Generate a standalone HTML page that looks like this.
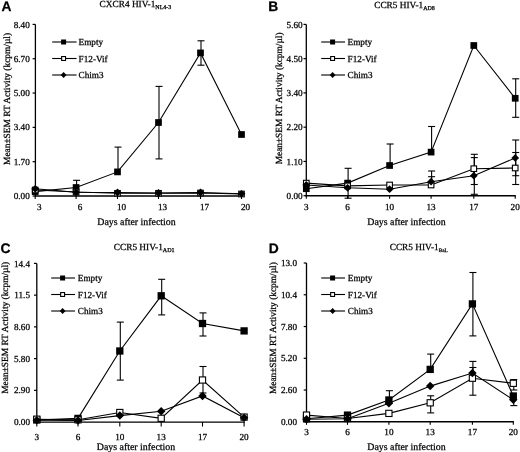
<!DOCTYPE html>
<html><head><meta charset="utf-8"><style>
html,body{margin:0;padding:0;background:#fff;width:520px;height:452px;overflow:hidden}
svg{display:block;filter:grayscale(1)} text{text-rendering:geometricPrecision;stroke:#000;stroke-width:0.25px}
</style></head><body>
<svg width="520" height="452" viewBox="0 0 520 452">
<rect width="520" height="452" fill="#fff"/>
<text x="1.5" y="10.7" font-family='"Liberation Sans", sans-serif' font-weight="bold" font-size="13.8">A</text>
<text x="99.6" y="7.1" font-family='"Liberation Serif", serif' font-size="9.3">CXCR4 HIV-1<tspan font-size="6.0" dy="2.3">NL4-3</tspan></text>
<text transform="translate(10.4,98.95) rotate(-90)" text-anchor="middle" font-family='"Liberation Serif", serif' font-size="9.4">Mean±SEM RT Activity (kcpm/µl)</text>
<line x1="35.4" y1="24.4" x2="35.4" y2="196.7" stroke="#000" stroke-width="1.3"/>
<line x1="32.6" y1="196.00" x2="35.4" y2="196.00" stroke="#000" stroke-width="1.2"/>
<text x="29.8" y="199.10" text-anchor="end" font-family='"Liberation Serif", serif' font-size="9.2">0.00</text>
<line x1="32.6" y1="161.68" x2="35.4" y2="161.68" stroke="#000" stroke-width="1.2"/>
<text x="29.8" y="164.78" text-anchor="end" font-family='"Liberation Serif", serif' font-size="9.2">1.70</text>
<line x1="32.6" y1="127.36" x2="35.4" y2="127.36" stroke="#000" stroke-width="1.2"/>
<text x="29.8" y="130.46" text-anchor="end" font-family='"Liberation Serif", serif' font-size="9.2">3.40</text>
<line x1="32.6" y1="93.04" x2="35.4" y2="93.04" stroke="#000" stroke-width="1.2"/>
<text x="29.8" y="96.14" text-anchor="end" font-family='"Liberation Serif", serif' font-size="9.2">5.00</text>
<line x1="32.6" y1="58.72" x2="35.4" y2="58.72" stroke="#000" stroke-width="1.2"/>
<text x="29.8" y="61.82" text-anchor="end" font-family='"Liberation Serif", serif' font-size="9.2">6.70</text>
<line x1="32.6" y1="24.40" x2="35.4" y2="24.40" stroke="#000" stroke-width="1.2"/>
<text x="29.8" y="27.50" text-anchor="end" font-family='"Liberation Serif", serif' font-size="9.2">8.40</text>
<line x1="34.8" y1="196" x2="242.1" y2="196" stroke="#000" stroke-width="1.4"/>
<line x1="35.2" y1="196" x2="35.2" y2="199" stroke="#000" stroke-width="1.1"/>
<text x="39.20" y="210" text-anchor="middle" font-family='"Liberation Serif", serif' font-size="9.2">3</text>
<line x1="76.1" y1="196" x2="76.1" y2="199" stroke="#000" stroke-width="1.1"/>
<text x="80.10" y="210" text-anchor="middle" font-family='"Liberation Serif", serif' font-size="9.2">6</text>
<line x1="117.5" y1="196" x2="117.5" y2="199" stroke="#000" stroke-width="1.1"/>
<text x="121.50" y="210" text-anchor="middle" font-family='"Liberation Serif", serif' font-size="9.2">10</text>
<line x1="158.5" y1="196" x2="158.5" y2="199" stroke="#000" stroke-width="1.1"/>
<text x="162.50" y="210" text-anchor="middle" font-family='"Liberation Serif", serif' font-size="9.2">13</text>
<line x1="200.5" y1="196" x2="200.5" y2="199" stroke="#000" stroke-width="1.1"/>
<text x="204.50" y="210" text-anchor="middle" font-family='"Liberation Serif", serif' font-size="9.2">17</text>
<line x1="241.5" y1="196" x2="241.5" y2="199" stroke="#000" stroke-width="1.1"/>
<text x="245.50" y="210" text-anchor="middle" font-family='"Liberation Serif", serif' font-size="9.2">20</text>
<text x="136.5" y="225" text-anchor="middle" font-family='"Liberation Serif", serif' font-size="9.9">Days after infection</text>
<line x1="76.6" y1="180.3" x2="76.6" y2="187.5" stroke="#000" stroke-width="1.1"/>
<line x1="73.10" y1="180.3" x2="80.10" y2="180.3" stroke="#000" stroke-width="1.1"/>
<line x1="118.0" y1="147.1" x2="118.0" y2="171.9" stroke="#000" stroke-width="1.1"/>
<line x1="114.50" y1="147.1" x2="121.50" y2="147.1" stroke="#000" stroke-width="1.1"/>
<line x1="159.0" y1="86.4" x2="159.0" y2="122.5" stroke="#000" stroke-width="1.1"/>
<line x1="155.50" y1="86.4" x2="162.50" y2="86.4" stroke="#000" stroke-width="1.1"/>
<line x1="159.0" y1="158.9" x2="159.0" y2="122.5" stroke="#000" stroke-width="1.1"/>
<line x1="155.50" y1="158.9" x2="162.50" y2="158.9" stroke="#000" stroke-width="1.1"/>
<line x1="201.0" y1="40.8" x2="201.0" y2="52.9" stroke="#000" stroke-width="1.1"/>
<line x1="197.50" y1="40.8" x2="204.50" y2="40.8" stroke="#000" stroke-width="1.1"/>
<line x1="201.0" y1="65.2" x2="201.0" y2="52.9" stroke="#000" stroke-width="1.1"/>
<line x1="197.50" y1="65.2" x2="204.50" y2="65.2" stroke="#000" stroke-width="1.1"/>
<polyline points="35.2,190 76.1,192 117.5,193.3 158.5,193.3 200.5,193 241.5,194" fill="none" stroke="#000" stroke-width="1.1"/>
<polyline points="35.2,188.8 76.1,192.3 117.5,192.5 158.5,193 200.5,192.5 241.5,193.8" fill="none" stroke="#000" stroke-width="1.1"/>
<polyline points="35.2,191.6 76.1,187.5 117.5,171.9 158.5,122.5 200.5,52.9 241.5,134.5" fill="none" stroke="#000" stroke-width="1.1"/>
<rect x="31.85" y="188.25" width="6.70" height="6.70" fill="#000"/>
<rect x="72.75" y="184.15" width="6.70" height="6.70" fill="#000"/>
<rect x="114.15" y="168.55" width="6.70" height="6.70" fill="#000"/>
<rect x="155.15" y="119.15" width="6.70" height="6.70" fill="#000"/>
<rect x="197.15" y="49.55" width="6.70" height="6.70" fill="#000"/>
<rect x="238.15" y="131.15" width="6.70" height="6.70" fill="#000"/>
<rect x="32.40" y="187.20" width="5.60" height="5.60" fill="#fff" stroke="#000" stroke-width="1.1"/>
<rect x="73.30" y="189.20" width="5.60" height="5.60" fill="#fff" stroke="#000" stroke-width="1.1"/>
<rect x="114.70" y="190.50" width="5.60" height="5.60" fill="#fff" stroke="#000" stroke-width="1.1"/>
<rect x="155.70" y="190.50" width="5.60" height="5.60" fill="#fff" stroke="#000" stroke-width="1.1"/>
<rect x="197.70" y="190.20" width="5.60" height="5.60" fill="#fff" stroke="#000" stroke-width="1.1"/>
<rect x="238.70" y="191.20" width="5.60" height="5.60" fill="#fff" stroke="#000" stroke-width="1.1"/>
<polygon points="35.20,184.91 39.09,188.80 35.20,192.69 31.31,188.80" fill="#000"/>
<polygon points="76.10,188.41 79.99,192.30 76.10,196.19 72.21,192.30" fill="#000"/>
<polygon points="117.50,188.61 121.39,192.50 117.50,196.39 113.61,192.50" fill="#000"/>
<polygon points="158.50,189.11 162.39,193.00 158.50,196.89 154.61,193.00" fill="#000"/>
<polygon points="200.50,188.61 204.39,192.50 200.50,196.39 196.61,192.50" fill="#000"/>
<polygon points="241.50,189.91 245.39,193.80 241.50,197.69 237.61,193.80" fill="#000"/>
<line x1="52.2" y1="42.0" x2="76.6" y2="42.0" stroke="#000" stroke-width="1.1"/>
<rect x="61.10" y="39.50" width="5.00" height="5.00" fill="#000"/>
<text x="78.6" y="45.2" font-family='"Liberation Serif", serif' font-size="9.2">Empty</text>
<line x1="52.2" y1="58.5" x2="76.6" y2="58.5" stroke="#000" stroke-width="1.1"/>
<rect x="61.65" y="56.55" width="3.90" height="3.90" fill="#fff" stroke="#000" stroke-width="1.1"/>
<text x="78.6" y="61.7" font-family='"Liberation Serif", serif' font-size="9.2">F12-Vif</text>
<line x1="52.2" y1="75.0" x2="76.6" y2="75.0" stroke="#000" stroke-width="1.1"/>
<polygon points="63.60,72.10 66.50,75.00 63.60,77.90 60.70,75.00" fill="#000"/>
<text x="78.6" y="78.2" font-family='"Liberation Serif", serif' font-size="9.2">Chim3</text>
<text x="268.2" y="10.7" font-family='"Liberation Sans", sans-serif' font-weight="bold" font-size="13.8">B</text>
<text x="374.2" y="7.5" font-family='"Liberation Serif", serif' font-size="9.3">CCR5 HIV-1<tspan font-size="6.0" dy="2.3">AD8</tspan></text>
<text transform="translate(282.2,98.4) rotate(-90)" text-anchor="middle" font-family='"Liberation Serif", serif' font-size="9.4">Mean±SEM RT Activity (kcpm/µl)</text>
<line x1="306.3" y1="24.4" x2="306.3" y2="196.39999999999998" stroke="#000" stroke-width="1.3"/>
<line x1="303.5" y1="195.70" x2="306.3" y2="195.70" stroke="#000" stroke-width="1.2"/>
<text x="302.7" y="198.80" text-anchor="end" font-family='"Liberation Serif", serif' font-size="9.2">0.00</text>
<line x1="303.5" y1="161.44" x2="306.3" y2="161.44" stroke="#000" stroke-width="1.2"/>
<text x="302.7" y="164.54" text-anchor="end" font-family='"Liberation Serif", serif' font-size="9.2">1.10</text>
<line x1="303.5" y1="127.18" x2="306.3" y2="127.18" stroke="#000" stroke-width="1.2"/>
<text x="302.7" y="130.28" text-anchor="end" font-family='"Liberation Serif", serif' font-size="9.2">2.20</text>
<line x1="303.5" y1="92.92" x2="306.3" y2="92.92" stroke="#000" stroke-width="1.2"/>
<text x="302.7" y="96.02" text-anchor="end" font-family='"Liberation Serif", serif' font-size="9.2">3.40</text>
<line x1="303.5" y1="58.66" x2="306.3" y2="58.66" stroke="#000" stroke-width="1.2"/>
<text x="302.7" y="61.76" text-anchor="end" font-family='"Liberation Serif", serif' font-size="9.2">4.50</text>
<line x1="303.5" y1="24.40" x2="306.3" y2="24.40" stroke="#000" stroke-width="1.2"/>
<text x="302.7" y="27.50" text-anchor="end" font-family='"Liberation Serif", serif' font-size="9.2">5.60</text>
<line x1="305.7" y1="195.7" x2="515.8000000000001" y2="195.7" stroke="#000" stroke-width="1.4"/>
<line x1="306.3" y1="195.7" x2="306.3" y2="198.7" stroke="#000" stroke-width="1.1"/>
<text x="306.30" y="209.9" text-anchor="middle" font-family='"Liberation Serif", serif' font-size="9.2">3</text>
<line x1="347.6" y1="195.7" x2="347.6" y2="198.7" stroke="#000" stroke-width="1.1"/>
<text x="347.60" y="209.9" text-anchor="middle" font-family='"Liberation Serif", serif' font-size="9.2">6</text>
<line x1="389.6" y1="195.7" x2="389.6" y2="198.7" stroke="#000" stroke-width="1.1"/>
<text x="389.60" y="209.9" text-anchor="middle" font-family='"Liberation Serif", serif' font-size="9.2">10</text>
<line x1="431.1" y1="195.7" x2="431.1" y2="198.7" stroke="#000" stroke-width="1.1"/>
<text x="431.10" y="209.9" text-anchor="middle" font-family='"Liberation Serif", serif' font-size="9.2">13</text>
<line x1="473.8" y1="195.7" x2="473.8" y2="198.7" stroke="#000" stroke-width="1.1"/>
<text x="473.80" y="209.9" text-anchor="middle" font-family='"Liberation Serif", serif' font-size="9.2">17</text>
<line x1="515.2" y1="195.7" x2="515.2" y2="198.7" stroke="#000" stroke-width="1.1"/>
<text x="515.20" y="209.9" text-anchor="middle" font-family='"Liberation Serif", serif' font-size="9.2">20</text>
<text x="406.5" y="225" text-anchor="middle" font-family='"Liberation Serif", serif' font-size="9.9">Days after infection</text>
<line x1="431.6" y1="171" x2="431.6" y2="185" stroke="#000" stroke-width="1.1"/>
<line x1="428.10" y1="171" x2="435.10" y2="171" stroke="#000" stroke-width="1.1"/>
<line x1="474.3" y1="154.3" x2="474.3" y2="168.7" stroke="#000" stroke-width="1.1"/>
<line x1="470.80" y1="154.3" x2="477.80" y2="154.3" stroke="#000" stroke-width="1.1"/>
<line x1="474.3" y1="184.5" x2="474.3" y2="168.7" stroke="#000" stroke-width="1.1"/>
<line x1="470.80" y1="184.5" x2="477.80" y2="184.5" stroke="#000" stroke-width="1.1"/>
<line x1="515.7" y1="152.5" x2="515.7" y2="168" stroke="#000" stroke-width="1.1"/>
<line x1="512.20" y1="152.5" x2="519.20" y2="152.5" stroke="#000" stroke-width="1.1"/>
<line x1="515.7" y1="184.5" x2="515.7" y2="168" stroke="#000" stroke-width="1.1"/>
<line x1="512.20" y1="184.5" x2="519.20" y2="184.5" stroke="#000" stroke-width="1.1"/>
<line x1="431.6" y1="176.7" x2="431.6" y2="181.7" stroke="#000" stroke-width="1.1"/>
<line x1="428.10" y1="176.7" x2="435.10" y2="176.7" stroke="#000" stroke-width="1.1"/>
<line x1="474.3" y1="157.6" x2="474.3" y2="175.7" stroke="#000" stroke-width="1.1"/>
<line x1="470.80" y1="157.6" x2="477.80" y2="157.6" stroke="#000" stroke-width="1.1"/>
<line x1="474.3" y1="194.3" x2="474.3" y2="175.7" stroke="#000" stroke-width="1.1"/>
<line x1="470.80" y1="194.3" x2="477.80" y2="194.3" stroke="#000" stroke-width="1.1"/>
<line x1="515.7" y1="140" x2="515.7" y2="157.9" stroke="#000" stroke-width="1.1"/>
<line x1="512.20" y1="140" x2="519.20" y2="140" stroke="#000" stroke-width="1.1"/>
<line x1="515.7" y1="175.7" x2="515.7" y2="157.9" stroke="#000" stroke-width="1.1"/>
<line x1="512.20" y1="175.7" x2="519.20" y2="175.7" stroke="#000" stroke-width="1.1"/>
<line x1="348.1" y1="168.3" x2="348.1" y2="183.1" stroke="#000" stroke-width="1.1"/>
<line x1="344.60" y1="168.3" x2="351.60" y2="168.3" stroke="#000" stroke-width="1.1"/>
<line x1="348.1" y1="198.2" x2="348.1" y2="183.1" stroke="#000" stroke-width="1.1"/>
<line x1="344.60" y1="198.2" x2="351.60" y2="198.2" stroke="#000" stroke-width="1.1"/>
<line x1="390.1" y1="144" x2="390.1" y2="165.5" stroke="#000" stroke-width="1.1"/>
<line x1="386.60" y1="144" x2="393.60" y2="144" stroke="#000" stroke-width="1.1"/>
<line x1="431.6" y1="126.5" x2="431.6" y2="152.1" stroke="#000" stroke-width="1.1"/>
<line x1="428.10" y1="126.5" x2="435.10" y2="126.5" stroke="#000" stroke-width="1.1"/>
<line x1="515.7" y1="78.8" x2="515.7" y2="98.3" stroke="#000" stroke-width="1.1"/>
<line x1="512.20" y1="78.8" x2="519.20" y2="78.8" stroke="#000" stroke-width="1.1"/>
<line x1="515.7" y1="117.3" x2="515.7" y2="98.3" stroke="#000" stroke-width="1.1"/>
<line x1="512.20" y1="117.3" x2="519.20" y2="117.3" stroke="#000" stroke-width="1.1"/>
<polyline points="306.3,183.1 347.6,185.9 389.6,185 431.1,185 473.8,168.7 515.2,168" fill="none" stroke="#000" stroke-width="1.1"/>
<polyline points="306.3,185 347.6,187.8 389.6,189.2 431.1,181.7 473.8,175.7 515.2,157.9" fill="none" stroke="#000" stroke-width="1.1"/>
<polyline points="306.3,188.7 347.6,183.1 389.6,165.5 431.1,152.1 473.8,45.5 515.2,98.3" fill="none" stroke="#000" stroke-width="1.1"/>
<rect x="302.95" y="185.35" width="6.70" height="6.70" fill="#000"/>
<rect x="344.25" y="179.75" width="6.70" height="6.70" fill="#000"/>
<rect x="386.25" y="162.15" width="6.70" height="6.70" fill="#000"/>
<rect x="427.75" y="148.75" width="6.70" height="6.70" fill="#000"/>
<rect x="470.45" y="42.15" width="6.70" height="6.70" fill="#000"/>
<rect x="511.85" y="94.95" width="6.70" height="6.70" fill="#000"/>
<rect x="303.50" y="180.30" width="5.60" height="5.60" fill="#fff" stroke="#000" stroke-width="1.1"/>
<rect x="344.80" y="183.10" width="5.60" height="5.60" fill="#fff" stroke="#000" stroke-width="1.1"/>
<rect x="386.80" y="182.20" width="5.60" height="5.60" fill="#fff" stroke="#000" stroke-width="1.1"/>
<rect x="428.30" y="182.20" width="5.60" height="5.60" fill="#fff" stroke="#000" stroke-width="1.1"/>
<rect x="471.00" y="165.90" width="5.60" height="5.60" fill="#fff" stroke="#000" stroke-width="1.1"/>
<rect x="512.40" y="165.20" width="5.60" height="5.60" fill="#fff" stroke="#000" stroke-width="1.1"/>
<polygon points="306.30,181.11 310.19,185.00 306.30,188.89 302.41,185.00" fill="#000"/>
<polygon points="347.60,183.91 351.49,187.80 347.60,191.69 343.71,187.80" fill="#000"/>
<polygon points="389.60,185.31 393.49,189.20 389.60,193.09 385.71,189.20" fill="#000"/>
<polygon points="431.10,177.81 434.99,181.70 431.10,185.59 427.21,181.70" fill="#000"/>
<polygon points="473.80,171.81 477.69,175.70 473.80,179.59 469.91,175.70" fill="#000"/>
<polygon points="515.20,154.01 519.09,157.90 515.20,161.79 511.31,157.90" fill="#000"/>
<line x1="321.2" y1="42.0" x2="345" y2="42.0" stroke="#000" stroke-width="1.1"/>
<rect x="330.10" y="39.50" width="5.00" height="5.00" fill="#000"/>
<text x="347.6" y="45.2" font-family='"Liberation Serif", serif' font-size="9.2">Empty</text>
<line x1="321.2" y1="58.5" x2="345" y2="58.5" stroke="#000" stroke-width="1.1"/>
<rect x="330.65" y="56.55" width="3.90" height="3.90" fill="#fff" stroke="#000" stroke-width="1.1"/>
<text x="347.6" y="61.7" font-family='"Liberation Serif", serif' font-size="9.2">F12-Vif</text>
<line x1="321.2" y1="75.0" x2="345" y2="75.0" stroke="#000" stroke-width="1.1"/>
<polygon points="332.60,72.10 335.50,75.00 332.60,77.90 329.70,75.00" fill="#000"/>
<text x="347.6" y="78.2" font-family='"Liberation Serif", serif' font-size="9.2">Chim3</text>
<text x="0.6" y="253" font-family='"Liberation Sans", sans-serif' font-weight="bold" font-size="13.8">C</text>
<text x="113.8" y="250" font-family='"Liberation Serif", serif' font-size="9.3">CCR5 HIV-1<tspan font-size="6.0" dy="2.3">AD1</tspan></text>
<text transform="translate(7.5,327.75) rotate(-90)" text-anchor="middle" font-family='"Liberation Serif", serif' font-size="9.4">Mean±SEM RT Activity (kcpm/µl)</text>
<line x1="36.8" y1="263.4" x2="36.8" y2="422.8" stroke="#000" stroke-width="1.3"/>
<line x1="34.0" y1="422.10" x2="36.8" y2="422.10" stroke="#000" stroke-width="1.2"/>
<text x="30" y="425.20" text-anchor="end" font-family='"Liberation Serif", serif' font-size="9.2">0.00</text>
<line x1="34.0" y1="390.36" x2="36.8" y2="390.36" stroke="#000" stroke-width="1.2"/>
<text x="30" y="393.46" text-anchor="end" font-family='"Liberation Serif", serif' font-size="9.2">2.90</text>
<line x1="34.0" y1="358.62" x2="36.8" y2="358.62" stroke="#000" stroke-width="1.2"/>
<text x="30" y="361.72" text-anchor="end" font-family='"Liberation Serif", serif' font-size="9.2">5.80</text>
<line x1="34.0" y1="326.88" x2="36.8" y2="326.88" stroke="#000" stroke-width="1.2"/>
<text x="30" y="329.98" text-anchor="end" font-family='"Liberation Serif", serif' font-size="9.2">8.60</text>
<line x1="34.0" y1="295.14" x2="36.8" y2="295.14" stroke="#000" stroke-width="1.2"/>
<text x="30" y="298.24" text-anchor="end" font-family='"Liberation Serif", serif' font-size="9.2">11.5</text>
<line x1="34.0" y1="263.40" x2="36.8" y2="263.40" stroke="#000" stroke-width="1.2"/>
<text x="30" y="266.50" text-anchor="end" font-family='"Liberation Serif", serif' font-size="9.2">14.4</text>
<line x1="36.199999999999996" y1="422.1" x2="244.7" y2="422.1" stroke="#000" stroke-width="1.4"/>
<line x1="36.8" y1="422.1" x2="36.8" y2="426.6" stroke="#000" stroke-width="1.1"/>
<text x="36.80" y="439.8" text-anchor="middle" font-family='"Liberation Serif", serif' font-size="9.2">3</text>
<line x1="78.0" y1="422.1" x2="78.0" y2="426.6" stroke="#000" stroke-width="1.1"/>
<text x="78.00" y="439.8" text-anchor="middle" font-family='"Liberation Serif", serif' font-size="9.2">6</text>
<line x1="119.8" y1="422.1" x2="119.8" y2="426.6" stroke="#000" stroke-width="1.1"/>
<text x="119.80" y="439.8" text-anchor="middle" font-family='"Liberation Serif", serif' font-size="9.2">10</text>
<line x1="161.2" y1="422.1" x2="161.2" y2="426.6" stroke="#000" stroke-width="1.1"/>
<text x="161.20" y="439.8" text-anchor="middle" font-family='"Liberation Serif", serif' font-size="9.2">13</text>
<line x1="202.5" y1="422.1" x2="202.5" y2="426.6" stroke="#000" stroke-width="1.1"/>
<text x="202.50" y="439.8" text-anchor="middle" font-family='"Liberation Serif", serif' font-size="9.2">17</text>
<line x1="244.1" y1="422.1" x2="244.1" y2="426.6" stroke="#000" stroke-width="1.1"/>
<text x="244.10" y="439.8" text-anchor="middle" font-family='"Liberation Serif", serif' font-size="9.2">20</text>
<text x="136" y="449.5" text-anchor="middle" font-family='"Liberation Serif", serif' font-size="9.9">Days after infection</text>
<line x1="203.0" y1="366.5" x2="203.0" y2="380" stroke="#000" stroke-width="1.1"/>
<line x1="199.50" y1="366.5" x2="206.50" y2="366.5" stroke="#000" stroke-width="1.1"/>
<line x1="203.0" y1="393" x2="203.0" y2="380" stroke="#000" stroke-width="1.1"/>
<line x1="199.50" y1="393" x2="206.50" y2="393" stroke="#000" stroke-width="1.1"/>
<line x1="120.3" y1="322.1" x2="120.3" y2="351" stroke="#000" stroke-width="1.1"/>
<line x1="116.80" y1="322.1" x2="123.80" y2="322.1" stroke="#000" stroke-width="1.1"/>
<line x1="120.3" y1="380.1" x2="120.3" y2="351" stroke="#000" stroke-width="1.1"/>
<line x1="116.80" y1="380.1" x2="123.80" y2="380.1" stroke="#000" stroke-width="1.1"/>
<line x1="161.7" y1="279.3" x2="161.7" y2="295.8" stroke="#000" stroke-width="1.1"/>
<line x1="158.20" y1="279.3" x2="165.20" y2="279.3" stroke="#000" stroke-width="1.1"/>
<line x1="161.7" y1="314.9" x2="161.7" y2="295.8" stroke="#000" stroke-width="1.1"/>
<line x1="158.20" y1="314.9" x2="165.20" y2="314.9" stroke="#000" stroke-width="1.1"/>
<line x1="203.0" y1="312.9" x2="203.0" y2="323.5" stroke="#000" stroke-width="1.1"/>
<line x1="199.50" y1="312.9" x2="206.50" y2="312.9" stroke="#000" stroke-width="1.1"/>
<line x1="203.0" y1="336" x2="203.0" y2="323.5" stroke="#000" stroke-width="1.1"/>
<line x1="199.50" y1="336" x2="206.50" y2="336" stroke="#000" stroke-width="1.1"/>
<polyline points="36.8,419.2 78.0,419.8 119.8,412.5 161.2,418.3 202.5,380 244.1,417.1" fill="none" stroke="#000" stroke-width="1.1"/>
<polyline points="36.8,420.2 78.0,420.5 119.8,415.6 161.2,411.2 202.5,395.9 244.1,417.8" fill="none" stroke="#000" stroke-width="1.1"/>
<polyline points="36.8,420 78.0,418.4 119.8,351 161.2,295.8 202.5,323.5 244.1,330.9" fill="none" stroke="#000" stroke-width="1.1"/>
<rect x="33.15" y="416.35" width="7.30" height="7.30" fill="#000"/>
<rect x="74.35" y="414.75" width="7.30" height="7.30" fill="#000"/>
<rect x="116.15" y="347.35" width="7.30" height="7.30" fill="#000"/>
<rect x="157.55" y="292.15" width="7.30" height="7.30" fill="#000"/>
<rect x="198.85" y="319.85" width="7.30" height="7.30" fill="#000"/>
<rect x="240.45" y="327.25" width="7.30" height="7.30" fill="#000"/>
<rect x="33.70" y="416.10" width="6.20" height="6.20" fill="#fff" stroke="#000" stroke-width="1.1"/>
<rect x="74.90" y="416.70" width="6.20" height="6.20" fill="#fff" stroke="#000" stroke-width="1.1"/>
<rect x="116.70" y="409.40" width="6.20" height="6.20" fill="#fff" stroke="#000" stroke-width="1.1"/>
<rect x="158.10" y="415.20" width="6.20" height="6.20" fill="#fff" stroke="#000" stroke-width="1.1"/>
<rect x="199.40" y="376.90" width="6.20" height="6.20" fill="#fff" stroke="#000" stroke-width="1.1"/>
<rect x="241.00" y="414.00" width="6.20" height="6.20" fill="#fff" stroke="#000" stroke-width="1.1"/>
<polygon points="36.80,415.97 41.03,420.20 36.80,424.43 32.57,420.20" fill="#000"/>
<polygon points="78.00,416.27 82.23,420.50 78.00,424.73 73.77,420.50" fill="#000"/>
<polygon points="119.80,411.37 124.03,415.60 119.80,419.83 115.57,415.60" fill="#000"/>
<polygon points="161.20,406.97 165.43,411.20 161.20,415.43 156.97,411.20" fill="#000"/>
<polygon points="202.50,391.67 206.73,395.90 202.50,400.13 198.27,395.90" fill="#000"/>
<polygon points="244.10,413.57 248.33,417.80 244.10,422.03 239.87,417.80" fill="#000"/>
<line x1="51.2" y1="278.0" x2="75" y2="278.0" stroke="#000" stroke-width="1.1"/>
<rect x="60.10" y="275.50" width="5.00" height="5.00" fill="#000"/>
<text x="77.8" y="281.2" font-family='"Liberation Serif", serif' font-size="9.2">Empty</text>
<line x1="51.2" y1="294.5" x2="75" y2="294.5" stroke="#000" stroke-width="1.1"/>
<rect x="60.65" y="292.55" width="3.90" height="3.90" fill="#fff" stroke="#000" stroke-width="1.1"/>
<text x="77.8" y="297.7" font-family='"Liberation Serif", serif' font-size="9.2">F12-Vif</text>
<line x1="51.2" y1="311.0" x2="75" y2="311.0" stroke="#000" stroke-width="1.1"/>
<polygon points="62.60,308.10 65.50,311.00 62.60,313.90 59.70,311.00" fill="#000"/>
<text x="77.8" y="314.2" font-family='"Liberation Serif", serif' font-size="9.2">Chim3</text>
<text x="268.7" y="253" font-family='"Liberation Sans", sans-serif' font-weight="bold" font-size="13.8">D</text>
<text x="389.7" y="249.5" font-family='"Liberation Serif", serif' font-size="9.3">CCR5 HIV-1<tspan font-size="5.2" dy="2.3">BaL</tspan></text>
<text transform="translate(276.3,328.15) rotate(-90)" text-anchor="middle" font-family='"Liberation Serif", serif' font-size="9.4">Mean±SEM RT Activity (kcpm/µl)</text>
<line x1="306.5" y1="263" x2="306.5" y2="422.5" stroke="#000" stroke-width="1.3"/>
<line x1="303.7" y1="421.80" x2="306.5" y2="421.80" stroke="#000" stroke-width="1.2"/>
<text x="297" y="424.90" text-anchor="end" font-family='"Liberation Serif", serif' font-size="9.2">0.00</text>
<line x1="303.7" y1="390.04" x2="306.5" y2="390.04" stroke="#000" stroke-width="1.2"/>
<text x="297" y="393.14" text-anchor="end" font-family='"Liberation Serif", serif' font-size="9.2">2.60</text>
<line x1="303.7" y1="358.28" x2="306.5" y2="358.28" stroke="#000" stroke-width="1.2"/>
<text x="297" y="361.38" text-anchor="end" font-family='"Liberation Serif", serif' font-size="9.2">5.20</text>
<line x1="303.7" y1="326.52" x2="306.5" y2="326.52" stroke="#000" stroke-width="1.2"/>
<text x="297" y="329.62" text-anchor="end" font-family='"Liberation Serif", serif' font-size="9.2">7.80</text>
<line x1="303.7" y1="294.76" x2="306.5" y2="294.76" stroke="#000" stroke-width="1.2"/>
<text x="297" y="297.86" text-anchor="end" font-family='"Liberation Serif", serif' font-size="9.2">10.4</text>
<line x1="303.7" y1="263.00" x2="306.5" y2="263.00" stroke="#000" stroke-width="1.2"/>
<text x="297" y="266.10" text-anchor="end" font-family='"Liberation Serif", serif' font-size="9.2">13.0</text>
<line x1="305.9" y1="421.8" x2="513.9" y2="421.8" stroke="#000" stroke-width="1.4"/>
<line x1="306.5" y1="421.8" x2="306.5" y2="424.8" stroke="#000" stroke-width="1.1"/>
<text x="306.50" y="435.2" text-anchor="middle" font-family='"Liberation Serif", serif' font-size="9.2">3</text>
<line x1="347.5" y1="421.8" x2="347.5" y2="424.8" stroke="#000" stroke-width="1.1"/>
<text x="347.50" y="435.2" text-anchor="middle" font-family='"Liberation Serif", serif' font-size="9.2">6</text>
<line x1="388.9" y1="421.8" x2="388.9" y2="424.8" stroke="#000" stroke-width="1.1"/>
<text x="388.90" y="435.2" text-anchor="middle" font-family='"Liberation Serif", serif' font-size="9.2">10</text>
<line x1="430.2" y1="421.8" x2="430.2" y2="424.8" stroke="#000" stroke-width="1.1"/>
<text x="430.20" y="435.2" text-anchor="middle" font-family='"Liberation Serif", serif' font-size="9.2">13</text>
<line x1="472.4" y1="421.8" x2="472.4" y2="424.8" stroke="#000" stroke-width="1.1"/>
<text x="472.40" y="435.2" text-anchor="middle" font-family='"Liberation Serif", serif' font-size="9.2">17</text>
<line x1="513.3" y1="421.8" x2="513.3" y2="424.8" stroke="#000" stroke-width="1.1"/>
<text x="513.30" y="435.2" text-anchor="middle" font-family='"Liberation Serif", serif' font-size="9.2">20</text>
<text x="406.5" y="449.8" text-anchor="middle" font-family='"Liberation Serif", serif' font-size="9.9">Days after infection</text>
<line x1="430.7" y1="395.8" x2="430.7" y2="402.8" stroke="#000" stroke-width="1.1"/>
<line x1="427.20" y1="395.8" x2="434.20" y2="395.8" stroke="#000" stroke-width="1.1"/>
<line x1="430.7" y1="412.9" x2="430.7" y2="402.8" stroke="#000" stroke-width="1.1"/>
<line x1="427.20" y1="412.9" x2="434.20" y2="412.9" stroke="#000" stroke-width="1.1"/>
<line x1="472.9" y1="367.5" x2="472.9" y2="378.2" stroke="#000" stroke-width="1.1"/>
<line x1="469.40" y1="367.5" x2="476.40" y2="367.5" stroke="#000" stroke-width="1.1"/>
<line x1="472.9" y1="395.2" x2="472.9" y2="378.2" stroke="#000" stroke-width="1.1"/>
<line x1="469.40" y1="395.2" x2="476.40" y2="395.2" stroke="#000" stroke-width="1.1"/>
<line x1="513.8" y1="379.6" x2="513.8" y2="383.3" stroke="#000" stroke-width="1.1"/>
<line x1="510.30" y1="379.6" x2="517.30" y2="379.6" stroke="#000" stroke-width="1.1"/>
<line x1="513.8" y1="390" x2="513.8" y2="383.3" stroke="#000" stroke-width="1.1"/>
<line x1="510.30" y1="390" x2="517.30" y2="390" stroke="#000" stroke-width="1.1"/>
<line x1="472.9" y1="361.4" x2="472.9" y2="373" stroke="#000" stroke-width="1.1"/>
<line x1="469.40" y1="361.4" x2="476.40" y2="361.4" stroke="#000" stroke-width="1.1"/>
<line x1="389.4" y1="390.7" x2="389.4" y2="400" stroke="#000" stroke-width="1.1"/>
<line x1="385.90" y1="390.7" x2="392.90" y2="390.7" stroke="#000" stroke-width="1.1"/>
<line x1="430.7" y1="354.1" x2="430.7" y2="369.4" stroke="#000" stroke-width="1.1"/>
<line x1="427.20" y1="354.1" x2="434.20" y2="354.1" stroke="#000" stroke-width="1.1"/>
<line x1="472.9" y1="272.5" x2="472.9" y2="303.9" stroke="#000" stroke-width="1.1"/>
<line x1="469.40" y1="272.5" x2="476.40" y2="272.5" stroke="#000" stroke-width="1.1"/>
<line x1="472.9" y1="335.9" x2="472.9" y2="303.9" stroke="#000" stroke-width="1.1"/>
<line x1="469.40" y1="335.9" x2="476.40" y2="335.9" stroke="#000" stroke-width="1.1"/>
<line x1="513.8" y1="405.6" x2="513.8" y2="396" stroke="#000" stroke-width="1.1"/>
<line x1="510.30" y1="405.6" x2="517.30" y2="405.6" stroke="#000" stroke-width="1.1"/>
<polyline points="306.5,415.1 347.5,418.5 388.9,413.4 430.2,402.8 472.4,378.2 513.3,383.3" fill="none" stroke="#000" stroke-width="1.1"/>
<polyline points="306.5,419.3 347.5,418.7 388.9,403.3 430.2,386.1 472.4,373 513.3,399.8" fill="none" stroke="#000" stroke-width="1.1"/>
<polyline points="306.5,418.8 347.5,415.1 388.9,400 430.2,369.4 472.4,303.9 513.3,396" fill="none" stroke="#000" stroke-width="1.1"/>
<rect x="302.85" y="415.15" width="7.30" height="7.30" fill="#000"/>
<rect x="343.85" y="411.45" width="7.30" height="7.30" fill="#000"/>
<rect x="385.25" y="396.35" width="7.30" height="7.30" fill="#000"/>
<rect x="426.55" y="365.75" width="7.30" height="7.30" fill="#000"/>
<rect x="468.75" y="300.25" width="7.30" height="7.30" fill="#000"/>
<rect x="509.65" y="392.35" width="7.30" height="7.30" fill="#000"/>
<rect x="303.40" y="412.00" width="6.20" height="6.20" fill="#fff" stroke="#000" stroke-width="1.1"/>
<rect x="344.40" y="415.40" width="6.20" height="6.20" fill="#fff" stroke="#000" stroke-width="1.1"/>
<rect x="385.80" y="410.30" width="6.20" height="6.20" fill="#fff" stroke="#000" stroke-width="1.1"/>
<rect x="427.10" y="399.70" width="6.20" height="6.20" fill="#fff" stroke="#000" stroke-width="1.1"/>
<rect x="469.30" y="375.10" width="6.20" height="6.20" fill="#fff" stroke="#000" stroke-width="1.1"/>
<rect x="510.20" y="380.20" width="6.20" height="6.20" fill="#fff" stroke="#000" stroke-width="1.1"/>
<polygon points="306.50,415.07 310.73,419.30 306.50,423.53 302.27,419.30" fill="#000"/>
<polygon points="347.50,414.47 351.73,418.70 347.50,422.93 343.27,418.70" fill="#000"/>
<polygon points="388.90,399.07 393.13,403.30 388.90,407.53 384.67,403.30" fill="#000"/>
<polygon points="430.20,381.87 434.43,386.10 430.20,390.33 425.97,386.10" fill="#000"/>
<polygon points="472.40,368.77 476.63,373.00 472.40,377.23 468.17,373.00" fill="#000"/>
<polygon points="513.30,395.57 517.53,399.80 513.30,404.03 509.07,399.80" fill="#000"/>
<line x1="321.2" y1="278.0" x2="345" y2="278.0" stroke="#000" stroke-width="1.1"/>
<rect x="330.10" y="275.50" width="5.00" height="5.00" fill="#000"/>
<text x="347.8" y="281.2" font-family='"Liberation Serif", serif' font-size="9.2">Empty</text>
<line x1="321.2" y1="294.5" x2="345" y2="294.5" stroke="#000" stroke-width="1.1"/>
<rect x="330.65" y="292.55" width="3.90" height="3.90" fill="#fff" stroke="#000" stroke-width="1.1"/>
<text x="347.8" y="297.7" font-family='"Liberation Serif", serif' font-size="9.2">F12-Vif</text>
<line x1="321.2" y1="311.0" x2="345" y2="311.0" stroke="#000" stroke-width="1.1"/>
<polygon points="332.60,308.10 335.50,311.00 332.60,313.90 329.70,311.00" fill="#000"/>
<text x="347.8" y="314.2" font-family='"Liberation Serif", serif' font-size="9.2">Chim3</text>
</svg>
</body></html>
